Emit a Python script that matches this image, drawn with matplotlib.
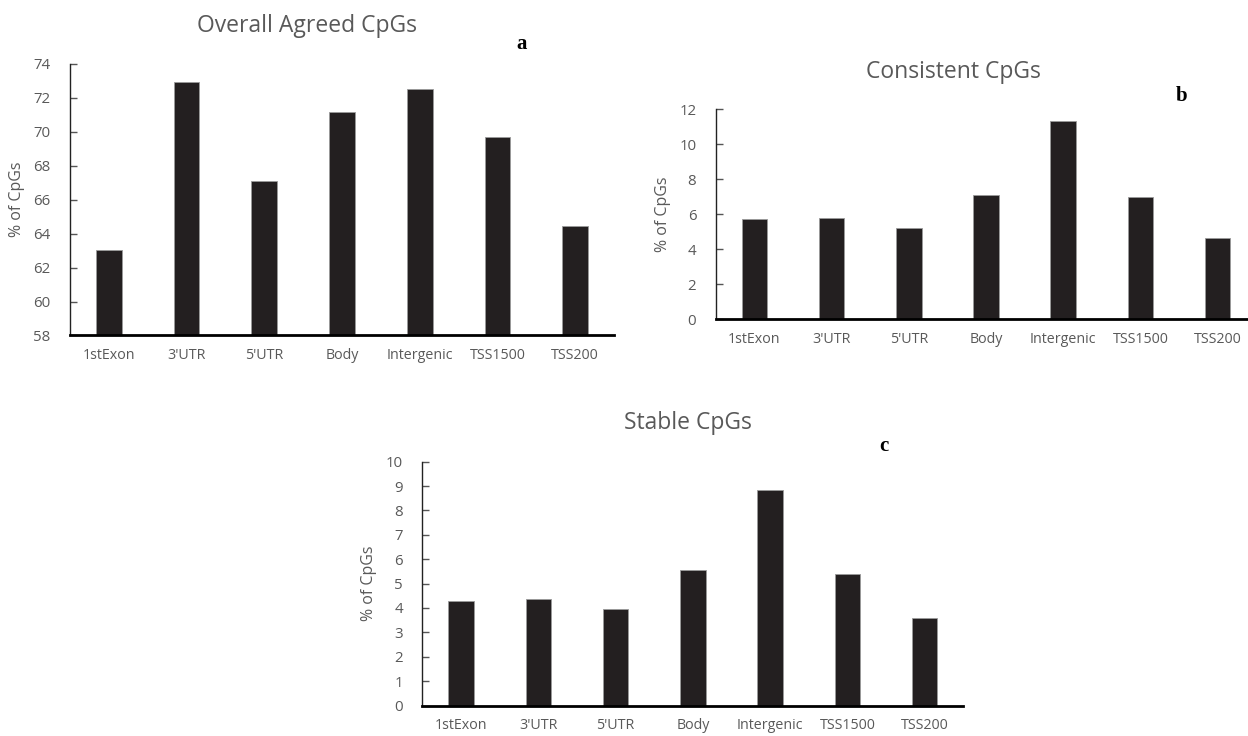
import numpy as np
import matplotlib
matplotlib.use('Agg')
import matplotlib.pyplot as plt

plt.rcParams['font.family'] = ['Open Sans', 'DejaVu Sans']

# data
regions = ['1stExon', "3'UTR", "5'UTR", 'Body', 'Intergenic', 'TSS1500', 'TSS200']
overall_agreed = [63.05, 72.95, 67.1, 71.15, 72.5, 69.7, 64.45]
consistent = [5.7, 5.8, 5.2, 7.1, 11.3, 6.95, 4.65]
stable = [4.3, 4.35, 3.95, 5.57, 8.85, 5.38, 3.57]

TEXT = '#595959'
BAR = '#231f20'

fig = plt.figure(figsize=(12.48, 7.36), dpi=100)


def bar_panel(rect, values, ylim, yticks, title, title_xy, letter, letter_xy):
    ax = fig.add_axes(rect)
    x = np.arange(len(regions))
    ax.bar(x, values, width=0.33, color=BAR, edgecolor='#9a9a9a', linewidth=0.6)
    ax.set_xlim(-0.5, len(regions) - 0.5)
    ax.set_ylim(*ylim)
    ax.set_yticks(yticks)
    ax.set_xticks(x)
    ax.set_xticklabels(regions)
    ax.tick_params(axis='x', length=0, pad=9, labelsize=10.3, labelcolor=TEXT)
    ax.tick_params(axis='y', direction='in', length=5, width=1, color='#555555',
                   pad=14, labelsize=10.8, labelcolor=TEXT)
    for s in ['top', 'right']:
        ax.spines[s].set_visible(False)
    ax.spines['left'].set_color('#222222')
    ax.spines['left'].set_linewidth(1.0)
    ax.spines['bottom'].set_color('black')
    ax.spines['bottom'].set_linewidth(2.0)
    ax.set_ylabel('% of CpGs', color=TEXT, fontsize=11.5, labelpad=6)
    fig.text(title_xy[0] / 1248, 1 - title_xy[1] / 736, title, ha='center', va='center',
             fontsize=16.5, color=TEXT)
    fig.text(letter_xy[0] / 1248, 1 - letter_xy[1] / 736, letter, ha='center', va='center',
             fontsize=15, fontweight='bold', family='Liberation Serif', color='black')
    return ax


# a - overall agreed
bar_panel([0.0561, 0.5442, 0.4359, 0.3689], overall_agreed, (58, 74), range(58, 75, 2),
          'Overall Agreed CpGs', (307, 26), 'a', (522, 44))

# b - consistent
bar_panel([0.5735, 0.5662, 0.4331, 0.2857], consistent, (0, 12), range(0, 13, 2),
          'Consistent CpGs', (953, 72), 'b', (1182, 96))

# c - stable
bar_panel([0.3384, 0.0414, 0.4335, 0.3313], stable, (0, 10), range(0, 11, 1),
          'Stable CpGs', (688, 423), 'c', (884, 446))

fig.savefig('out.png', dpi=100)
